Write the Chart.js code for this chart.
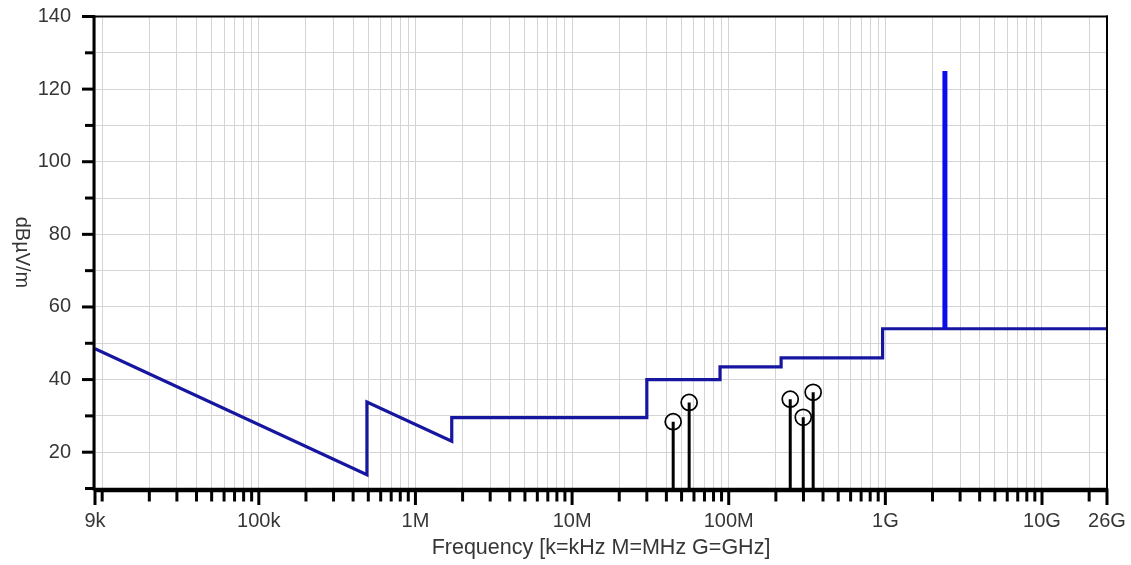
<!DOCTYPE html>
<html>
<head>
<meta charset="utf-8">
<title>Radiated emissions</title>
<script src="https://cdn.jsdelivr.net/npm/chart.js@4.4.1/dist/chart.umd.min.js"></script>
<style>
  html, body { margin: 0; padding: 0; background: #fff; }
  canvas { display: block; }
</style>
</head>
<body>
<canvas id="emc" width="1131" height="565"></canvas>
<script>
// Limit line (dBµV/m) as frequency / level break points
const limitFreq  = [9e3, 490e3, 490e3, 1.705e6, 1.705e6, 30e6, 30e6, 88e6, 88e6, 216e6, 216e6, 960e6, 960e6, 26e9];
const limitLevel = [48.5, 13.8, 33.8, 23.0, 29.5, 29.5, 40, 40, 43.5, 43.5, 46, 46, 54, 54];

// Carrier spike at 2.4 GHz
const spikeFreq  = [2.4e9, 2.4e9];
const spikeLevel = [54, 125];

// Measured peaks
const peakFreq  = [44.2e6, 55.9e6, 247e6, 299e6, 346e6];
const peakLevel = [28.4, 33.7, 34.6, 29.6, 36.5];

// Axis ranges and labels
const xMin = 9e3, xMax = 26e9;
const yMin = 10, yMax = 140, yStep = 10;
const xLabelValues = [9e3, 1e5, 1e6, 1e7, 1e8, 1e9, 1e10, 26e9];
const xLabelTexts  = ['9k', '100k', '1M', '10M', '100M', '1G', '10G', '26G'];
const yLabelValues = [20, 40, 60, 80, 100, 120, 140];

const FONT = "'Liberation Sans', Arial, sans-serif";
const TEXT = '#363636';

// tick positions: every 1..9 step of each decade inside the range, plus the end labels
const xTicks = [xMin];
for (let d = 1e4; d <= 1e10; d *= 10) {
  for (let m = 1; m <= 9; m++) {
    const v = m * d;
    if (v > xMin && v < xMax) xTicks.push(v);
  }
}
xTicks.push(xMax);
const xLabelMap = new Map(xLabelValues.map((v, i) => [v, xLabelTexts[i]]));
const labelFor = v => {
  for (const [k, t] of xLabelMap) if (Math.abs(k - v) / k < 1e-9) return t;
  return '';
};

const stemPoints = [];
peakFreq.forEach((f, i) => {
  stemPoints.push({x: f, y: yMin}, {x: f, y: peakLevel[i]}, {x: f, y: null});
});

const axisFrame = {
  id: 'axisFrame',
  afterDraw(chart) {
    const {ctx, chartArea: a, scales: {x, y}} = chart;
    const seg = (x1, y1, x2, y2) => { ctx.beginPath(); ctx.moveTo(x1, y1); ctx.lineTo(x2, y2); ctx.stroke(); };
    ctx.save();
    ctx.strokeStyle = '#000';
    ctx.lineCap = 'butt';

    // x tick marks
    ctx.lineWidth = 3;
    xTicks.forEach(v => {
      const px = x.getPixelForValue(v);
      const len = labelFor(v) ? 16.5 : 13;
      seg(px, a.bottom, px, a.bottom + len);
    });
    // y tick marks
    for (let v = yMin; v <= yMax; v += yStep) {
      const py = y.getPixelForValue(v);
      const len = yLabelValues.includes(v) ? 13 : 10;
      seg(a.left - len, py, a.left, py);
    }

    // frame: thin top / right, heavy left / bottom
    ctx.lineWidth = 2;
    seg(a.left, a.top, a.right + 1, a.top);
    seg(a.right, a.top - 1, a.right, a.bottom);
    ctx.lineWidth = 3;
    seg(a.left - 1, a.top - 1, a.left - 1, a.bottom + 2);
    ctx.lineWidth = 4.5;
    seg(a.left - 1, a.bottom + 1.5, a.right + 1, a.bottom + 1.5);

    // y axis title, reading top to bottom
    ctx.fillStyle = TEXT;
    ctx.font = '20px ' + FONT;
    ctx.textAlign = 'center';
    ctx.textBaseline = 'middle';
    ctx.translate(22, (a.top + a.bottom) / 2);
    ctx.rotate(Math.PI / 2);
    ctx.fillText('dBµV/m', 0, 0);
    ctx.restore();
  }
};

new Chart(document.getElementById('emc'), {
  type: 'line',
  data: {
    datasets: [
      {
        label: 'Peaks',
        data: stemPoints,
        borderColor: '#000',
        borderWidth: 3,
        pointRadius: 0,
        spanGaps: false,
        order: 3
      },
      {
        label: 'Peak markers',
        data: peakFreq.map((f, i) => ({x: f, y: peakLevel[i]})),
        showLine: false,
        pointStyle: 'circle',
        pointRadius: 8,
        pointBorderWidth: 1.7,
        pointBorderColor: '#000',
        pointBackgroundColor: 'rgba(0,0,0,0)',
        order: 2
      },
      {
        label: 'Limit',
        data: limitFreq.map((f, i) => ({x: f, y: limitLevel[i]})),
        borderColor: '#1616a0',
        borderWidth: 3.2,
        pointRadius: 0,
        tension: 0,
        order: 1
      },
      {
        label: '2.4 GHz',
        data: spikeFreq.map((f, i) => ({x: f, y: spikeLevel[i]})),
        borderColor: '#0c0ce8',
        borderWidth: 5,
        borderCapStyle: 'butt',
        pointRadius: 0,
        order: 0
      }
    ]
  },
  options: {
    responsive: false,
    animation: false,
    devicePixelRatio: 1,
    layout: { padding: { top: 16.5, right: 24, left: 0, bottom: 0 } },
    plugins: { legend: { display: false }, tooltip: { enabled: false } },
    scales: {
      x: {
        type: 'logarithmic',
        min: xMin,
        max: xMax,
        afterBuildTicks: s => { s.ticks = xTicks.map(v => ({value: v})); },
        afterFit: s => { s.height = 565 - 488.5; s.paddingLeft = 0; s.paddingRight = 0; },
        grid: { color: '#d4d4d4', lineWidth: 1, drawTicks: false },
        border: { display: false },
        ticks: {
          autoSkip: false,
          maxRotation: 0,
          minRotation: 0,
          padding: 21,
          color: TEXT,
          font: { family: FONT, size: 20 },
          callback: v => labelFor(v)
        },
        title: {
          display: true,
          text: 'Frequency [k=kHz M=MHz G=GHz]',
          color: TEXT,
          font: { family: FONT, size: 21.5 },
          padding: { top: 0, bottom: 4 }
        }
      },
      y: {
        min: yMin,
        max: yMax,
        afterFit: s => { s.width = 95; s.paddingTop = 0; s.paddingBottom = 0; },
        grid: { color: '#d4d4d4', lineWidth: 1, drawTicks: false },
        border: { display: false },
        ticks: {
          stepSize: yStep,
          padding: 24,
          color: TEXT,
          font: { family: FONT, size: 20 },
          callback: v => yLabelValues.includes(v) ? String(v) : ''
        }
      }
    }
  },
  plugins: [axisFrame]
});
</script>
</body>
</html>
